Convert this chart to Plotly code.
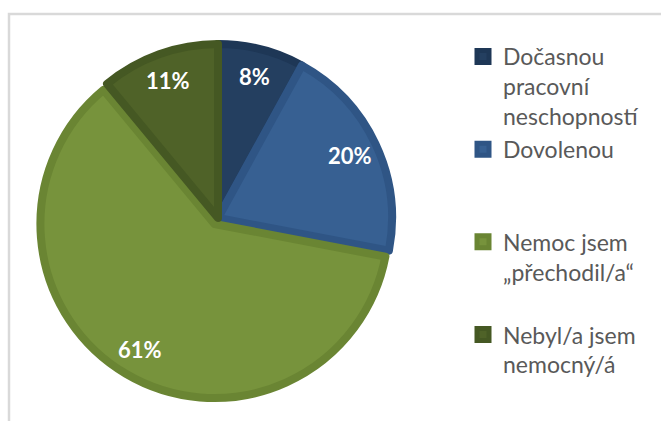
import math
import plotly.graph_objects as go

# Survey answers and their shares (%)
labels = [
    "Dočasnou<br>pracovní<br>neschopností",
    "Dovolenou<br> <br> ",
    "Nemoc jsem<br>„přechodil/a“<br> ",
    "Nebyl/a jsem<br>nemocný/á",
]
shares = [8, 20, 61, 11]
pulls = [0, 0, 0.04, 0]

fill_colors = ["#243F60", "#376092", "#77933C", "#4F6228"]
edge_colors = ["#1E3756", "#2F5585", "#6A8533", "#455823"]

W, H = 661, 421
cx, cy, half = 218, 218, 181  # pie centre and half-size of its domain (px)
radius = half / (1 + max(pulls))  # radius plotly gives the pie inside its domain
label_r = 0.84  # value labels sit near the rim, as a fraction of the radius

fig = go.Figure(
    go.Pie(
        labels=labels,
        values=shares,
        sort=False,
        direction="clockwise",
        rotation=0,
        pull=pulls,
        marker=dict(colors=fill_colors, line=dict(color=edge_colors, width=8)),
        textinfo="none",
        hoverinfo="skip",
        domain=dict(
            x=[(cx - half) / W, (cx + half) / W],
            y=[(H - cy - half) / H, (H - cy + half) / H],
        ),
    )
)

# value labels at the middle angle of each slice
total = sum(shares)
annotations = []
start = 0.0
for value, pull in zip(shares, pulls):
    mid = 2 * math.pi * (start + value / 2) / total
    start += value
    r = radius * (label_r + pull)
    px = cx + r * math.sin(mid)
    py = cy - r * math.cos(mid)
    annotations.append(
        dict(
            x=px / W,
            y=(H - py) / H,
            xref="paper",
            yref="paper",
            text=f"{value}%",
            showarrow=False,
            xanchor="center",
            yanchor="middle",
            font=dict(family="Lato", size=22, color="white", weight="bold"),
        )
    )

fig.update_layout(
    width=W,
    height=H,
    margin=dict(l=0, r=0, t=0, b=0),
    paper_bgcolor="white",
    plot_bgcolor="white",
    showlegend=True,
    legend=dict(
        x=463 / W,
        y=1 - 35 / H,
        xanchor="left",
        yanchor="top",
        valign="top",
        font=dict(family="Lato", size=23, color="#595959"),
        bgcolor="rgba(0,0,0,0)",
    ),
    annotations=annotations,
    shapes=[
        dict(
            type="rect",
            xref="paper",
            yref="paper",
            x0=9 / W,
            x1=1.05,
            y0=-0.05,
            y1=1 - 14 / H,
            line=dict(color="#D9D9D9", width=2.5),
            layer="below",
        )
    ],
)

fig.write_html("out.html")
